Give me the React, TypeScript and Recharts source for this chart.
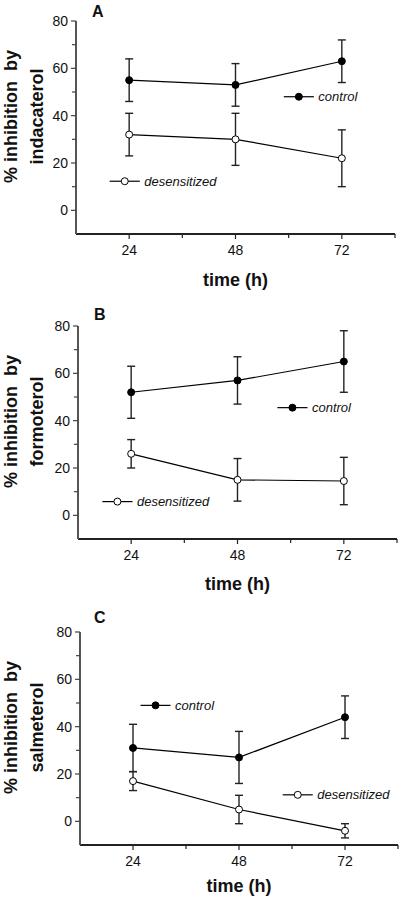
import React from "react";
import {
  LineChart,
  Line,
  XAxis,
  YAxis,
  ErrorBar,
  ReferenceLine,
  ReferenceDot,
} from "recharts";

const FONT = "'Liberation Sans', Arial, Helvetica, sans-serif";

// time points (h)
const hours = [24, 48, 72];
const xTicks = [24, 36, 48, 60, 72, 84];
const yTicks = [0, 10, 20, 30, 40, 50, 60, 70, 80];

// A: indacaterol
const indControl = [55, 53, 63];
const indControlErr = [9, 9, 9];
const indDesens = [32, 30, 22];
const indDesensErr = [9, 11, 12];
const indLegendControl = [62.3, 48];
const indLegendDesens = [23, 12.3];

// B: formoterol
const forControl = [52, 57, 65];
const forControlErr = [11, 10, 13];
const forDesens = [26, 15, 14.5];
const forDesensErr = [6, 9, 10];
const forLegendControl = [60.4, 45.5];
const forLegendDesens = [20.9, 5.8];

// C: salmeterol
const salControl = [31, 27, 44];
const salControlErr = [10, 11, 9];
const salDesens = [17, 5, -4];
const salDesensErr = [4, 6, 3];
const salLegendControl = [29.1, 49];
const salLegendDesens = [61.3, 11.2];

const LEGEND_HALF = 3.4;

function buildRows(control: number[], cErr: number[], desens: number[], dErr: number[]) {
  return hours.map((t, i) => ({
    t,
    control: control[i],
    controlErr: cErr[i],
    desens: desens[i],
    desensErr: dErr[i],
  }));
}

const XTick = ({ x, y, payload }: any) => {
  const major = payload.value % 24 === 0;
  return (
    <g>
      <line x1={x} y1={y} x2={x} y2={y + (major ? 5 : 4)} stroke="#222" strokeWidth={1.2} />
      {major && (
        <text x={x} y={y + 21} textAnchor="middle" fontSize={14} fontFamily={FONT} fill="#111">
          {payload.value}
        </text>
      )}
    </g>
  );
};

const YTick = ({ x, y, payload }: any) => {
  const major = payload.value % 20 === 0;
  return (
    <g>
      <line x1={x} y1={y} x2={x - (major ? 5 : 4)} y2={y} stroke="#444" strokeWidth={1.2} />
      {major && (
        <text x={x - 8} y={y + 5} textAnchor="end" fontSize={14} fontFamily={FONT} fill="#111">
          {payload.value}
        </text>
      )}
    </g>
  );
};

function yTitle(lines: string[]) {
  return (props: any) => {
    const vb = props.viewBox;
    const cy = vb.y + vb.height / 2 - 11;
    return (
      <g>
        {lines.map((s, i) => {
          const bx = vb.x + (i === 0 ? 17 : 42.5);
          return (
            <text
              key={i}
              x={bx}
              y={cy}
              transform={`rotate(-90 ${bx} ${cy})`}
              textAnchor="middle"
              fontSize={18}
              fontWeight="bold"
              fontFamily={FONT}
              fill="#111"
              style={{ whiteSpace: "pre" }}
            >
              {s}
            </text>
          );
        })}
      </g>
    );
  };
}

function xTitle(dy: number) {
  return (props: any) => {
    const vb = props.viewBox;
    return (
      <text
        x={vb.x + vb.width / 2}
        y={vb.y + dy}
        textAnchor="middle"
        fontSize={18}
        fontWeight="bold"
        fontFamily={FONT}
        fill="#111"
      >
        time (h)
      </text>
    );
  };
}

function LegendItem(pos: number[], name: string, filled: boolean) {
  return [
    <ReferenceLine
      key={name + "-line"}
      segment={[
        { x: pos[0] - LEGEND_HALF, y: pos[1] },
        { x: pos[0] + LEGEND_HALF, y: pos[1] },
      ]}
      stroke="#000"
      strokeWidth={1.2}
    />,
    <ReferenceDot
      key={name + "-dot"}
      x={pos[0]}
      y={pos[1]}
      r={3.5}
      fill={filled ? "#000" : "#fff"}
      stroke="#000"
      strokeWidth={1}
      label={{
        value: name,
        position: "right",
        offset: 16,
        fontSize: 13,
        fontStyle: "italic",
        fontFamily: FONT,
        fill: "#111",
      }}
    />,
  ];
}

function Panel({
  height,
  top,
  axisX,
  right,
  titleDy,
  rows,
  title,
  legendControl,
  legendDesens,
}: any) {
  const plotH = 213;
  const xAxisH = height - top - plotH;
  return (
    <LineChart
      width={400}
      height={height}
      data={rows}
      margin={{ top, right, bottom: 0, left: 0 }}
    >
      <XAxis
        dataKey="t"
        type="number"
        domain={[12, 84]}
        ticks={xTicks}
        interval={0}
        height={xAxisH}
        tickSize={0}
        tickMargin={0}
        tickLine={false}
        tick={<XTick />}
        axisLine={{ stroke: "#222", strokeWidth: 2 }}
        label={{ content: xTitle(titleDy) }}
      />
      <YAxis
        type="number"
        domain={[-10, 80]}
        ticks={yTicks}
        interval={0}
        width={axisX}
        tickSize={0}
        tickMargin={0}
        tickLine={false}
        tick={<YTick />}
        axisLine={{ stroke: "#555", strokeWidth: 2 }}
        label={{ content: yTitle(title) }}
      />
      <Line
        dataKey="control"
        stroke="#000"
        strokeWidth={1.2}
        isAnimationActive={false}
        dot={{ r: 3.5, fill: "#000", stroke: "#000", strokeWidth: 1 }}
      >
        <ErrorBar dataKey="controlErr" direction="y" width={4} stroke="#222" strokeWidth={1.4} />
      </Line>
      <Line
        dataKey="desens"
        stroke="#000"
        strokeWidth={1.2}
        isAnimationActive={false}
        dot={{ r: 3.5, fill: "#fff", stroke: "#000", strokeWidth: 1 }}
      >
        <ErrorBar dataKey="desensErr" direction="y" width={4} stroke="#222" strokeWidth={1.4} />
      </Line>
      {LegendItem(legendControl, "control", true)}
      {LegendItem(legendDesens, "desensitized", false)}
    </LineChart>
  );
}

const letterStyle: React.CSSProperties = {
  position: "absolute",
  fontFamily: FONT,
  fontWeight: "bold",
  fontSize: 16,
  lineHeight: "18px",
  color: "#111",
};

export default function App() {
  return (
    <div style={{ position: "absolute", left: 0, top: 0, width: 400, height: 898, background: "#fff" }}>
      <div style={{ position: "absolute", left: 0, top: 0 }}>
        <Panel
          height={300}
          top={21}
          axisX={76}
          right={5}
          titleDy={52}
          rows={buildRows(indControl, indControlErr, indDesens, indDesensErr)}
          title={["% inhibition  by", "indacaterol"]}
          legendControl={indLegendControl}
          legendDesens={indLegendDesens}
        />
      </div>
      <div style={{ position: "absolute", left: 0, top: 300 }}>
        <Panel
          height={298}
          top={26}
          axisX={78}
          right={3}
          titleDy={51}
          rows={buildRows(forControl, forControlErr, forDesens, forDesensErr)}
          title={["% inhibition  by", "formoterol"]}
          legendControl={forLegendControl}
          legendDesens={forLegendDesens}
        />
      </div>
      <div style={{ position: "absolute", left: 0, top: 598 }}>
        <Panel
          height={300}
          top={34}
          axisX={80}
          right={2}
          titleDy={47}
          rows={buildRows(salControl, salControlErr, salDesens, salDesensErr)}
          title={["% inhibition  by", "salmeterol"]}
          legendControl={salLegendControl}
          legendDesens={salLegendDesens}
        />
      </div>
      <div style={{ ...letterStyle, left: 92, top: 3 }}>A</div>
      <div style={{ ...letterStyle, left: 94, top: 306 }}>B</div>
      <div style={{ ...letterStyle, left: 94, top: 609 }}>C</div>
    </div>
  );
}
